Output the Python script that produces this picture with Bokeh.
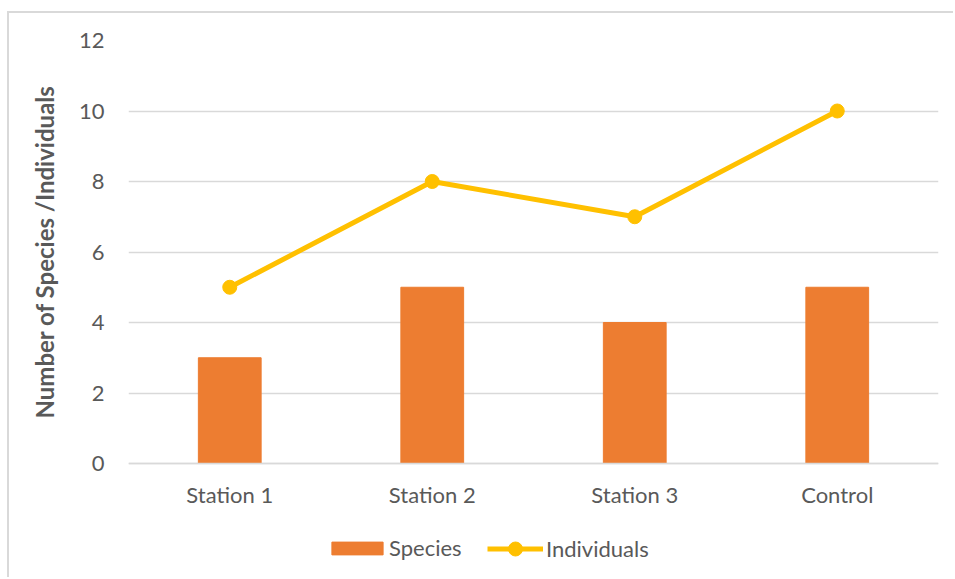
from bokeh.plotting import figure
from bokeh.models import Legend, LegendItem, FixedTicker, Range1d, Title
from bokeh.embed import file_html
from bokeh.resources import INLINE

# Survey results per sampling site
stations = ["Station 1", "Station 2", "Station 3", "Control"]
species = [3, 5, 4, 5]
individuals = [5, 8, 7, 10]
y_ticks = [0, 2, 4, 6, 8, 10, 12]

FONT = "Lato"
TEXT = "#595959"
GRID = "#D9D9D9"
ORANGE = "#ED7D31"
GOLD = "#FFC000"

# the frame runs down to the bottom edge so the legend can sit inside it;
# the category axis is pinned at y = 0
p = figure(
    x_range=stations,
    y_range=Range1d(-3.234, 12),
    width=946,
    height=566,
    output_backend="svg",
    toolbar_location=None,
    min_border_left=119,
    min_border_right=17,
    min_border_top=27,
    min_border_bottom=2,
    styles={"margin-left": "7px", "margin-top": "11px",
            "border-left": "2px solid #D9D9D9",
            "border-top": "2px solid #D9D9D9"},
)
p.x_range.range_padding = 0
p.outline_line_color = None
p.background_fill_color = "white"
p.border_fill_color = "white"

bars = p.vbar(x=stations, top=species, width=0.31, color=ORANGE)
line = p.line(x=stations, y=individuals, line_color=GOLD, line_width=5)
dots = p.scatter(x=stations, y=individuals, size=14, color=GOLD)

# axes
p.yaxis.ticker = FixedTicker(ticks=y_ticks)
p.yaxis.axis_line_color = None
p.yaxis.major_tick_line_color = None
p.yaxis.minor_tick_line_color = None
p.yaxis.major_label_standoff = 18

p.xaxis.fixed_location = 0
p.xaxis.axis_line_color = GRID
p.xaxis.axis_line_width = 1.5
p.xaxis.major_tick_line_color = None
p.xaxis.minor_tick_line_color = None
p.xaxis.major_label_standoff = 11

for ax in (p.xaxis, p.yaxis):
    ax.major_label_text_font = FONT
    ax.major_label_text_font_size = "22px"
    ax.major_label_text_color = TEXT

p.xgrid.grid_line_color = None
p.ygrid.grid_line_color = GRID
p.ygrid.grid_line_width = 1.5

# vertical axis title, kept level with the value range 0..12
y_title = Title(
    text="Number of Species /Individuals",
    align="left",
    offset=159,
    vertical_align="bottom",
    standoff=34,
    text_font=FONT,
    text_font_style="bold",
    text_font_size="24px",
    text_color=TEXT,
)
p.add_layout(y_title, "left")

legend_style = dict(
    orientation="horizontal",
    padding=0,
    margin=0,
    border_line_color=None,
    background_fill_alpha=0,
    label_text_font=FONT,
    label_text_font_size="22px",
    label_text_color=TEXT,
)

legend_bars = Legend(
    items=[LegendItem(label="Species", renderers=[bars])],
    location=(197, 16),
    glyph_width=64,
    glyph_height=16,
    label_standoff=0,
    **legend_style,
)
legend_line = Legend(
    items=[LegendItem(label="Individuals", renderers=[line, dots])],
    location=(359, 11),
    glyph_width=56,
    glyph_height=35,
    label_standoff=3,
    **legend_style,
)
p.add_layout(legend_bars, "center")
p.add_layout(legend_line, "center")

open("out.html", "w").write(file_html(p, INLINE))
